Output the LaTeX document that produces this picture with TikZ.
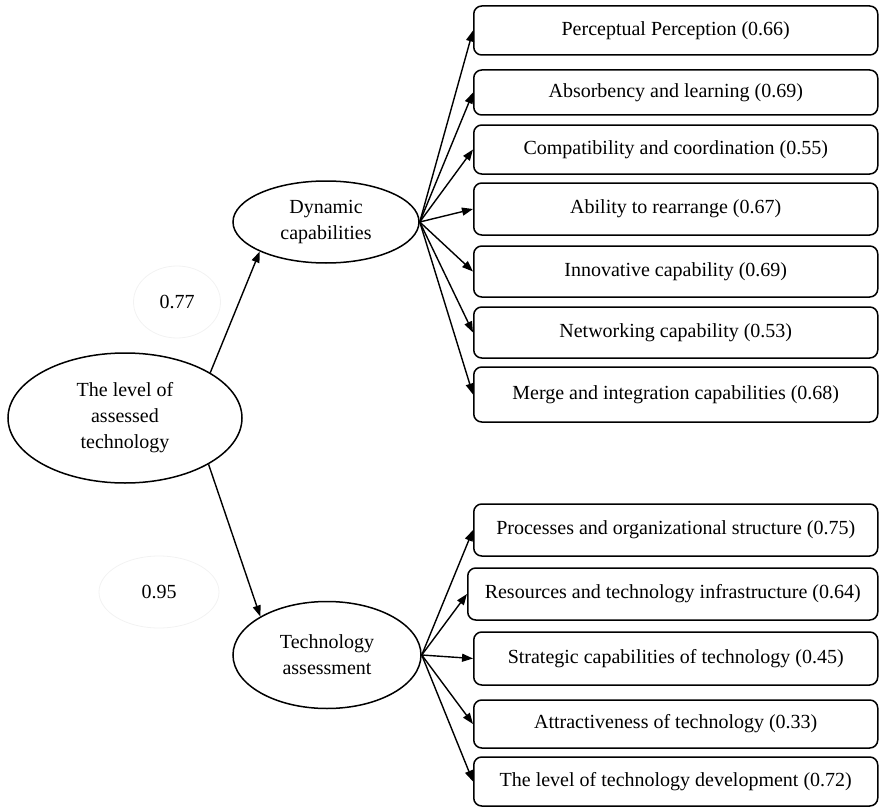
\documentclass[tikz,border=0pt]{standalone}
\usepackage{fontspec}
\setmainfont{Liberation Serif}
\usetikzlibrary{shapes.geometric,arrows.meta,calc}

\begin{document}
\begin{tikzpicture}[x=1pt,y=-1pt,
  every node/.style={font=\fontsize{20}{26}\selectfont},
  latent/.style={draw,line width=1.5pt,ellipse,inner sep=0pt,align=center},
  item/.style={draw,line width=1.5pt,rounded corners=8pt,minimum width=404pt,
               inner sep=0pt,anchor=west},
  coef/.style={ellipse,draw=black!5,line width=0.8pt,inner sep=0pt},
  link/.style={line width=1.4pt,-{Triangle[length=11pt,width=8pt]}}]
\useasboundingbox (0,0) rectangle (879,808);

% latent constructs
\node[latent,minimum width=234pt,minimum height=130pt] (main) at (125,418)
  {The level of\\assessed\\technology};
\node[latent,minimum width=186pt,minimum height=82pt] (dyn) at (326,222)
  {Dynamic\\capabilities};
\node[latent,minimum width=188pt,minimum height=107pt] (tech) at (327,655)
  {Technology\\assessment};

% path coefficients
\node[coef,minimum width=87pt,minimum height=72pt] (c1) at (177,302) {0.77};
\node[coef,minimum width=120pt,minimum height=72pt] (c2) at (159,592) {0.95};

% indicators of dynamic capabilities
\node[item,minimum height=49pt] (d1) at (473,30.5) {Perceptual Perception (0.66)};
\node[item,minimum height=45pt] (d2) at (473,92.5) {Absorbency and learning (0.69)};
\node[item,minimum height=49pt] (d3) at (473,149.5) {Compatibility and coordination (0.55)};
\node[item,minimum height=52pt] (d4) at (473,209) {Ability to rearrange (0.67)};
\node[item,minimum height=51pt] (d5) at (473,271.5) {Innovative capability (0.69)};
\node[item,minimum height=51pt] (d6) at (473,332.5) {Networking capability (0.53)};
\node[item,minimum height=55pt] (d7) at (473,394.5) {Merge and integration capabilities (0.68)};

% indicators of technology assessment
\node[item,minimum height=52pt] (t1) at (473,530) {Processes and organizational structure (0.75)};
\node[item,minimum height=52pt,minimum width=410pt] (t2) at (467,594) {Resources and technology infrastructure (0.64)};
\node[item,minimum height=53pt] (t3) at (473,658.5) {Strategic capabilities of technology (0.45)};
\node[item,minimum height=48pt] (t4) at (473,724) {Attractiveness of technology (0.33)};
\node[item,minimum height=49pt] (t5) at (473,781.5) {The level of technology development (0.72)};

% structural paths
\draw[link] (main.28) -- (dyn.204);
\draw[link] (main.331) -- (tech.150);

% measurement paths
\foreach \i in {1,...,7} \draw[link] (dyn.east) -- (d\i.west);
\foreach \i in {1,...,5} \draw[link] (tech.east) -- (t\i.west);
\end{tikzpicture}
\end{document}
